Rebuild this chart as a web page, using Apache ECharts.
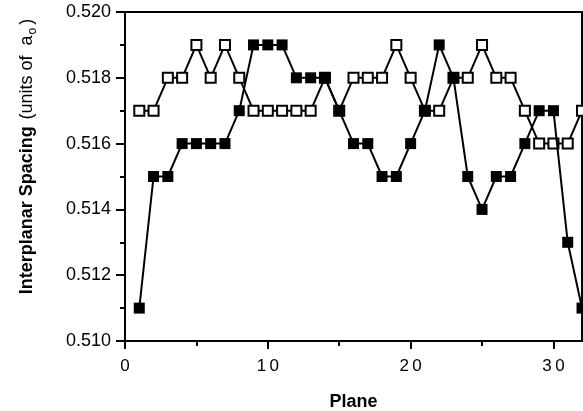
<!DOCTYPE html>
<html>
<head>
<meta charset="utf-8">
<script src="https://cdn.jsdelivr.net/npm/echarts@6/dist/echarts.min.js"></script>
<style>
  html, body { margin: 0; padding: 0; background: #fff; }
  #chart { width: 583px; height: 411px; }
</style>
</head>
<body>
<div id="chart"></div>
<script>
// Plane index along the sample
const planes = [1,2,3,4,5,6,7,8,9,10,11,12,13,14,15,16,17,18,19,20,21,22,23,24,25,26,27,28,29,30,31,32];
// Interplanar spacing, open-square series
const openSpacing = [0.517,0.517,0.518,0.518,0.519,0.518,0.519,0.518,0.517,0.517,0.517,0.517,0.517,0.518,0.517,0.518,
                     0.518,0.518,0.519,0.518,0.517,0.517,0.518,0.518,0.519,0.518,0.518,0.517,0.516,0.516,0.516,0.517];
// Interplanar spacing, filled-square series
const filledSpacing = [0.511,0.515,0.515,0.516,0.516,0.516,0.516,0.517,0.519,0.519,0.519,0.518,0.518,0.518,0.517,0.516,
                       0.516,0.515,0.515,0.516,0.517,0.519,0.518,0.515,0.514,0.515,0.515,0.516,0.517,0.517,0.513,0.511];
// Axis ticks
const xMajorTicks = [0, 10, 20, 30];
const xMinorTicks = [5, 15, 25];

const font = 'Liberation Sans, Arial, Helvetica, sans-serif';
const pair = (xs, ys) => xs.map((x, i) => [x, ys[i]]);
// typewriter-style spaced digits on the plane axis
const spaced = v => String(v).split('').join('\u2009');

const chart = echarts.init(document.getElementById('chart'), null, { renderer: 'canvas' });
chart.setOption({
  animation: false,
  backgroundColor: '#fff',
  grid: {
    left: 125, right: 1, top: 12, bottom: 70,
    outerBoundsMode: 'none', containLabel: false,
    show: true, borderColor: '#000', borderWidth: 2, backgroundColor: 'transparent'
  },
  xAxis: [{
    type: 'value', min: 0, max: 32,
    name: 'Plane', nameLocation: 'middle', nameGap: 52,
    nameTextStyle: { fontFamily: font, fontWeight: 'bold', fontSize: 18, color: '#000' },
    axisLine: { show: true, lineStyle: { color: '#000', width: 2 } },
    axisTick: { show: true, customValues: xMajorTicks, length: 8, inside: false, lineStyle: { color: '#000', width: 2 } },
    axisLabel: { customValues: xMajorTicks, fontFamily: font, fontSize: 17, color: '#000', margin: 17, formatter: spaced },
    splitLine: { show: false }
  }, {
    type: 'value', min: 0, max: 32, position: 'bottom',
    axisLine: { show: false },
    axisTick: { show: true, customValues: xMinorTicks, length: 5, lineStyle: { color: '#000', width: 2 } },
    axisLabel: { show: false },
    splitLine: { show: false }
  }],
  yAxis: {
    type: 'value', min: 0.510, max: 0.520, interval: 0.002,
    name: '{b|Interplanar Spacing}  {n|(units of  a}{s|o}{n|)}',
    nameLocation: 'middle', nameRotate: 90, nameGap: 86,
    nameTextStyle: {
      color: '#000',
      padding: [0, 0, 0, 40],
      rich: {
        b: { fontFamily: font, fontWeight: 'bold', fontSize: 18, color: '#000', lineHeight: 24, verticalAlign: 'middle' },
        n: { fontFamily: font, fontSize: 18, color: '#000', lineHeight: 24, verticalAlign: 'middle' },
        s: { fontFamily: font, fontSize: 12, color: '#000', lineHeight: 24, verticalAlign: 'bottom', padding: [0, 3, 0, 1] }
      }
    },
    axisLine: { show: true, lineStyle: { color: '#000', width: 2 } },
    axisTick: { show: true, length: 9, lineStyle: { color: '#000', width: 2 } },
    minorTick: { show: true, splitNumber: 2, length: 5, lineStyle: { color: '#000', width: 2 } },
    axisLabel: { fontFamily: font, fontSize: 18, color: '#000', margin: 14, formatter: v => v.toFixed(3) },
    splitLine: { show: false },
    minorSplitLine: { show: false }
  },
  series: [{
    name: 'open',
    type: 'line',
    data: pair(planes, openSpacing),
    symbol: 'rect', symbolSize: 10,
    lineStyle: { color: '#000', width: 2 },
    itemStyle: { color: '#fff', borderColor: '#000', borderWidth: 2 },
    z: 2
  }, {
    name: 'filled',
    type: 'line',
    data: pair(planes, filledSpacing),
    symbol: 'rect', symbolSize: 11,
    lineStyle: { color: '#000', width: 2 },
    itemStyle: { color: '#000', borderColor: '#000', borderWidth: 0 },
    z: 3
  }]
});
</script>
</body>
</html>
